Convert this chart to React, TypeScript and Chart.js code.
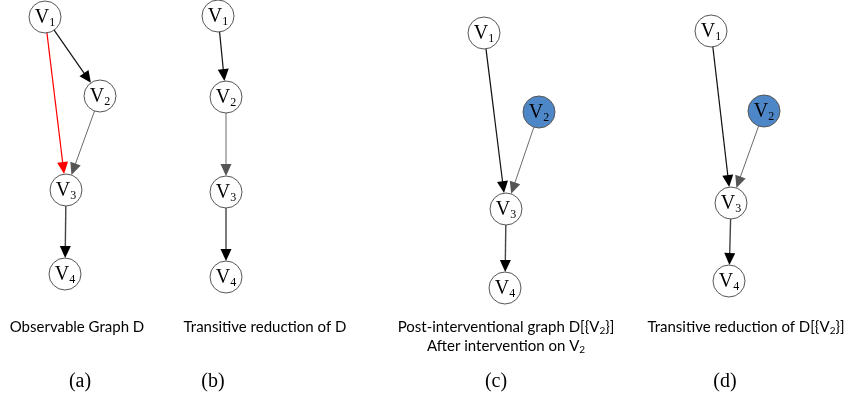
import React, { useEffect, useRef } from "react";
import { Chart, registerables } from "chart.js";

Chart.register(...registerables);

// ---- data ----
const NODE_INDEX = ["1", "2", "3", "4"];

const A_X = [45, 100, 66, 65];
const A_Y = [17, 96, 190, 274];
const B_X = [218, 226, 226, 226];
const B_Y = [16, 97, 192, 277];
const C_X = [484, 539, 506, 505];
const C_Y = [33, 112, 209, 288];
const D_X = [711, 764, 731, 729];
const D_Y = [31, 111, 203, 281];

const INTERVENED_C = [false, true, false, false];
const INTERVENED_D = [false, true, false, false];

// edges [from, to, kind]
const A_EDGES = [[0, 1, "dark"], [0, 2, "red"], [1, 2, "gray"], [2, 3, "mid"]];
const B_EDGES = [[0, 1, "dark"], [1, 2, "gray"], [2, 3, "mid"]];
const C_EDGES = [[0, 2, "dark"], [1, 2, "gray"], [2, 3, "mid"]];
const D_EDGES = [[0, 2, "dark"], [1, 2, "gray"], [2, 3, "mid"]];

const CAPTION_LINES = [
  ["Observable Graph D"],
  ["Transitive reduction of D"],
  ["Post-interventional graph D[{V_2}]", "After intervention on V_2"],
  ["Transitive reduction of D[{V_2}]"],
];
const CAPTION_X = [77, 265, 506, 746];
const CAPTION_Y = [327, 327, 327, 327];
const PANEL_LABELS = ["(a)", "(b)", "(c)", "(d)"];
const PANEL_LABEL_X = [80, 213, 496, 725];
const PANEL_LABEL_Y = [382, 382, 382, 382];

// ---- styles ----
const NODE_R = 16;
const LINE_GAP = 19;
const EDGE_STYLE: Record<string, { line: string; head: string; width: number }> = {
  dark: { line: "#111", head: "#000", width: 1.2 },
  mid: { line: "#444", head: "#000", width: 1.4 },
  red: { line: "#ff0000", head: "#ff0000", width: 1.2 },
  gray: { line: "#6a6a6a", head: "#555", width: 1 },
};
const BLUE = "#4e87c7";

const PANELS = [
  { xs: A_X, ys: A_Y, edges: A_EDGES, fill: [false, false, false, false] },
  { xs: B_X, ys: B_Y, edges: B_EDGES, fill: [false, false, false, false] },
  { xs: C_X, ys: C_Y, edges: C_EDGES, fill: INTERVENED_C },
  { xs: D_X, ys: D_Y, edges: D_EDGES, fill: INTERVENED_D },
];

function drawRich(ctx: CanvasRenderingContext2D, text: string, cx: number, cy: number, size: number, family: string) {
  const parts: { t: string; sub: boolean }[] = [];
  const re = /_(\d)/g;
  let last = 0;
  let m: RegExpExecArray | null;
  while ((m = re.exec(text))) {
    if (m.index > last) parts.push({ t: text.slice(last, m.index), sub: false });
    parts.push({ t: m[1], sub: true });
    last = m.index + m[0].length;
  }
  if (last < text.length) parts.push({ t: text.slice(last), sub: false });
  const subSize = Math.round(size * 0.68);
  let total = 0;
  for (const p of parts) {
    ctx.font = `${p.sub ? subSize : size}px ${family}`;
    total += ctx.measureText(p.t).width;
  }
  let x = cx - total / 2;
  ctx.textAlign = "left";
  ctx.textBaseline = "middle";
  for (const p of parts) {
    ctx.font = `${p.sub ? subSize : size}px ${family}`;
    ctx.fillText(p.t, x, p.sub ? cy + size * 0.25 : cy);
    x += ctx.measureText(p.t).width;
  }
}

const graphPlugin = {
  id: "graphPlugin",
  beforeDatasetsDraw(chart: any) {
    const ctx: CanvasRenderingContext2D = chart.ctx;
    const sx = chart.scales.x;
    const sy = chart.scales.y;
    ctx.save();
    PANELS.forEach((p) => {
      p.edges.forEach((e: any) => {
        const [f, t, kind] = e;
        const st = EDGE_STYLE[kind];
        const x1 = sx.getPixelForValue(p.xs[f]);
        const y1 = sy.getPixelForValue(p.ys[f]);
        const x2 = sx.getPixelForValue(p.xs[t]);
        const y2 = sy.getPixelForValue(p.ys[t]);
        const dx = x2 - x1, dy = y2 - y1;
        const len = Math.hypot(dx, dy);
        const ux = dx / len, uy = dy / len;
        const sxp = x1 + ux * NODE_R, syp = y1 + uy * NODE_R;
        const tipX = x2 - ux * NODE_R, tipY = y2 - uy * NODE_R;
        const hl = 12, hw = 5.5;
        const bx = tipX - ux * hl, by = tipY - uy * hl;
        ctx.strokeStyle = st.line;
        ctx.lineWidth = st.width;
        ctx.beginPath();
        ctx.moveTo(sxp, syp);
        ctx.lineTo(bx + ux * 1, by + uy * 1);
        ctx.stroke();
        ctx.fillStyle = st.head;
        ctx.beginPath();
        ctx.moveTo(tipX, tipY);
        ctx.lineTo(bx - uy * hw, by + ux * hw);
        ctx.lineTo(bx + uy * hw, by - ux * hw);
        ctx.closePath();
        ctx.fill();
      });
    });
    ctx.restore();
  },
  afterDatasetsDraw(chart: any) {
    const ctx: CanvasRenderingContext2D = chart.ctx;
    const sx = chart.scales.x;
    const sy = chart.scales.y;
    ctx.save();
    ctx.fillStyle = "#000";
    // node labels
    PANELS.forEach((p) => {
      p.xs.forEach((xv: number, i: number) => {
        const px = sx.getPixelForValue(xv);
        const py = sy.getPixelForValue(p.ys[i]);
        ctx.textBaseline = "alphabetic";
        ctx.textAlign = "left";
        ctx.font = "20px 'Liberation Serif'";
        const wV = ctx.measureText("V").width;
        ctx.font = "12px 'Liberation Serif'";
        const wS = ctx.measureText(NODE_INDEX[i]).width;
        const x0 = px - (wV + wS) / 2;
        ctx.font = "20px 'Liberation Serif'";
        ctx.fillText("V", x0, py + 6);
        ctx.font = "12px 'Liberation Serif'";
        ctx.fillText(NODE_INDEX[i], x0 + wV, py + 9);
      });
    });
    // captions
    CAPTION_LINES.forEach((lines, k) => {
      lines.forEach((ln, j) => {
        drawRich(ctx, ln, sx.getPixelForValue(CAPTION_X[k]), sy.getPixelForValue(CAPTION_Y[k] + j * LINE_GAP), 15, "Lato, 'Open Sans', sans-serif");
      });
    });
    PANEL_LABELS.forEach((lab, k) => {
      ctx.font = "20px 'Liberation Serif'";
      ctx.textAlign = "center";
      ctx.textBaseline = "middle";
      ctx.fillText(lab, sx.getPixelForValue(PANEL_LABEL_X[k]), sy.getPixelForValue(PANEL_LABEL_Y[k]));
    });
    ctx.restore();
  },
};

export default function App() {
  const ref = useRef<HTMLCanvasElement | null>(null);
  useEffect(() => {
    if (!ref.current) return;
    const chart = new Chart(ref.current, {
      type: "scatter",
      data: {
        datasets: PANELS.map((p, k) => ({
          label: PANEL_LABELS[k],
          data: p.xs.map((x: number, i: number) => ({ x, y: p.ys[i] })),
          pointRadius: NODE_R,
          pointHoverRadius: NODE_R,
          pointBackgroundColor: p.fill.map((f: boolean) => (f ? BLUE : "#ffffff")),
          pointBorderColor: "#555",
          pointBorderWidth: 1,
          clip: false as any,
        })),
      },
      options: {
        animation: false,
        responsive: true,
        maintainAspectRatio: false,
        layout: { padding: 0, autoPadding: false },
        plugins: { legend: { display: false }, tooltip: { enabled: false } },
        events: [],
        scales: {
          x: { type: "linear", min: 0, max: 851, display: false },
          y: { type: "linear", min: 0, max: 400, reverse: true, display: false },
        },
      },
      plugins: [graphPlugin],
    });
    return () => chart.destroy();
  }, []);
  return (
    <div style={{ position: "absolute", left: 0, top: 0, width: 851, height: 400, background: "#fff" }}>
      <canvas ref={ref} />
    </div>
  );
}
